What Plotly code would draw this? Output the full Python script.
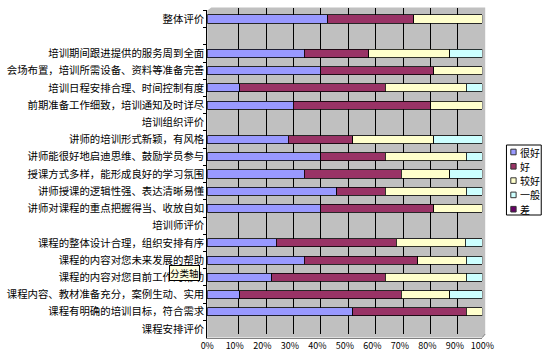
import plotly.graph_objects as go

# ---- data (top-to-bottom order, percentages) ----
categories = [
    "整体评价", " ",
    "培训期间跟进提供的服务周到全面",
    "会场布置，培训所需设备、资料等准备完善",
    "培训日程安排合理、时间控制有度",
    "前期准备工作细致，培训通知及时详尽",
    "培训组织评价",
    "讲师的培训形式新颖，有风格",
    "讲师能很好地启迪思维、鼓励学员参与",
    "授课方式多样，能形成良好的学习氛围",
    "讲师授课的逻辑性强、表达清晰易懂",
    "讲师对课程的重点把握得当、收放自如",
    "培训师评价",
    "课程的整体设计合理，组织安排有序",
    "课程的内容对您未来发展的帮助",
    "课程的内容对您目前工作的帮助",
    "课程内容、教材准备充分，案例生动、实用",
    "课程有明确的培训目标，符合需求",
    "课程安排评价",
]
series_names = ["很好", "好", "较好", "一般", "差"]
very_good = [43.75, None, 35.3, 41.2, 11.8, 31.25, None, 29.4, 41.2, 35.3, 47.1, 41.2, None, 25.0, 35.3, 23.5, 11.8, 52.9, None]
good      = [31.25, None, 23.5, 41.2, 52.9, 50.0, None, 23.5, 23.5, 35.3, 17.6, 41.2, None, 43.75, 41.2, 41.2, 58.8, 41.2, None]
fair      = [25.0, None, 29.4, 17.6, 29.4, 18.75, None, 29.4, 29.4, 17.6, 29.4, 17.6, None, 25.0, 17.6, 29.4, 17.6, 5.9, None]
average   = [None, None, 11.8, None, 5.9, None, None, 17.6, 5.9, 11.8, 5.9, None, None, 6.25, 5.9, 5.9, 11.8, None, None]
poor      = [None] * len(categories)
x_ticks = list(range(0, 101, 10))
x_tick_labels = [f"{v}%" for v in x_ticks]

series_values = [very_good, good, fair, average, poor]
colors = ["#9999FF", "#993366", "#FFFFCC", "#CCFFFF", "#660066"]

W, H = 560, 357
FONT = "Noto Sans CJK SC, SimSun, sans-serif"

# front plane (bars) and back wall (grid), in pixels
FX0, FX1, FY0, FY1 = 207.3, 492.0, 10.4, 337.6
BX0, BX1, BY0, BY1 = 211.5, 495.0, 7.5, 334.0
# compact legend box, in pixels
LX0, LX1, LY0, LY1 = 517.0, 553.0, 145.0, 215.0
L_ITEM0, L_STEP = 152.0, 14.3


def px(x):
    return x / W


def py(y):
    return 1 - y / H


fig = go.Figure()
# empty trace so that the back-wall subplot (grid only) is created
fig.add_trace(go.Scatter(x=[], y=[], xaxis="x", yaxis="y",
                         showlegend=False, hoverinfo="skip"))
for name, vals, col in zip(series_names, series_values, colors):
    fig.add_trace(go.Bar(
        y=categories, x=vals, name=name, orientation="h",
        marker=dict(color=col, line=dict(color="#000000", width=0.8)),
        xaxis="x2", yaxis="y2", hoverinfo="skip", showlegend=False,
    ))

box_path = (f"M {px(FX0)} {py(FY0)} L {px(BX0)} {py(BY0)} L {px(BX1)} {py(BY0)} "
            f"L {px(BX1)} {py(BY1)} L {px(FX1)} {py(FY1)} L {px(FX0)} {py(FY1)} Z")

shapes = [
    dict(type="path", path=box_path, xref="paper", yref="paper",
         fillcolor="#C0C0C0", line=dict(width=0), layer="below"),
    dict(type="line", xref="paper", yref="paper",
         x0=px(FX1), y0=py(FY1), x1=px(BX1), y1=py(BY1),
         line=dict(color="#808080", width=1), layer="below"),
    # legend frame
    dict(type="rect", xref="paper", yref="paper",
         x0=px(LX0), x1=px(LX1), y0=py(LY1), y1=py(LY0),
         fillcolor="white", line=dict(color="#000000", width=1)),
]
annotations = [dict(
    text="分类轴", xref="paper", yref="paper",
    x=px(167.5), y=py(281), showarrow=False,
    bgcolor="#FFFFE1", bordercolor="#000000", borderwidth=1, borderpad=0,
    font=dict(size=9.5, family=FONT),
)]
# legend entries
for i, (name, col) in enumerate(zip(series_names, colors)):
    cy = L_ITEM0 + i * L_STEP
    shapes.append(dict(type="rect", xref="paper", yref="paper",
                       x0=px(521.5), x1=px(527), y0=py(cy + 2.8), y1=py(cy - 2.8),
                       fillcolor=col, line=dict(color="#333333", width=1)))
    annotations.append(dict(text=name, xref="paper", yref="paper",
                            x=px(529), y=py(cy), xanchor="left", yanchor="middle",
                            showarrow=False, font=dict(size=10, family=FONT)))

fig.update_layout(
    width=W, height=H,
    margin=dict(l=0, r=0, t=0, b=0),
    paper_bgcolor="white",
    plot_bgcolor="rgba(0,0,0,0)",
    barmode="stack",
    bargap=0.53,
    showlegend=False,
    font=dict(family=FONT, size=10, color="black"),
    shapes=shapes,
    annotations=annotations,
    # back wall (grid only)
    xaxis=dict(domain=[px(BX0), px(BX1)], anchor="y", range=[0, 100],
               tickmode="array", tickvals=x_ticks[1:-1], showticklabels=False,
               showgrid=True, gridcolor="#000000", gridwidth=1,
               zeroline=False, showline=False, fixedrange=True),
    yaxis=dict(domain=[py(BY1), py(BY0)], anchor="x", range=[0, 1],
               showgrid=False, showticklabels=False, zeroline=False,
               showline=False, fixedrange=True),
    # front plane (bars)
    xaxis2=dict(domain=[px(FX0), px(FX1)], anchor="y2", range=[0, 100],
                tickmode="array", tickvals=x_ticks, ticktext=x_tick_labels,
                tickfont=dict(size=9, family=FONT),
                showgrid=False, zeroline=False,
                showline=True, linecolor="#808080", linewidth=1, fixedrange=True),
    yaxis2=dict(domain=[py(FY1), py(FY0)], anchor="x2",
                type="category", categoryorder="array", categoryarray=categories,
                autorange="reversed",
                tickfont=dict(size=10.4, family=FONT),
                ticks="outside", ticklen=3, tickson="boundaries", tickcolor="#000000",
                showline=True, linecolor="#000000", linewidth=1,
                showgrid=False, zeroline=False, fixedrange=True),
)

fig.write_html("out.html")
